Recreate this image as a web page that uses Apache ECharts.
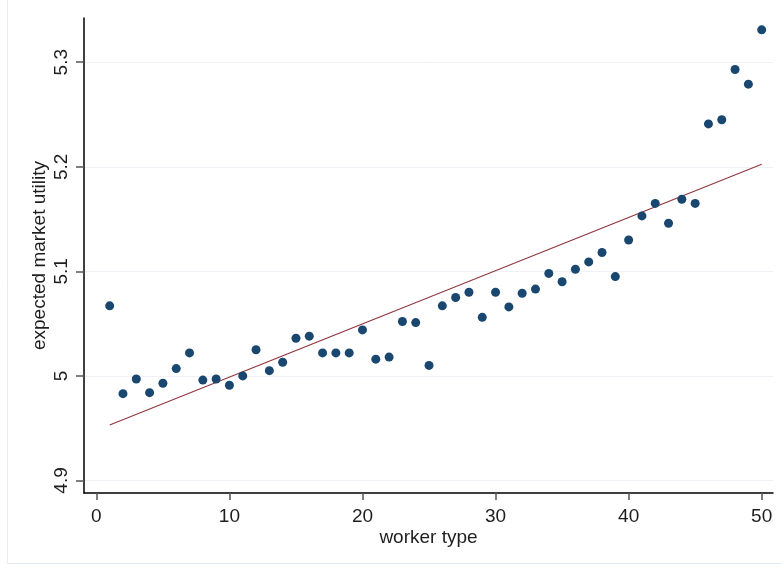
<!DOCTYPE html>
<html>
<head>
<meta charset="utf-8">
<script src="https://cdn.jsdelivr.net/npm/echarts@6/dist/echarts.min.js"></script>
<style>
  html, body { margin: 0; padding: 0; background: #fff; }
  #chart { width: 782px; height: 569px; }
</style>
</head>
<body>
<div id="chart"></div>
<script>
// Worker types 1..50 and their expected market utility
const workerType = [
  1, 2, 3, 4, 5, 6, 7, 8, 9, 10,
  11, 12, 13, 14, 15, 16, 17, 18, 19, 20,
  21, 22, 23, 24, 25, 26, 27, 28, 29, 30,
  31, 32, 33, 34, 35, 36, 37, 38, 39, 40,
  41, 42, 43, 44, 45, 46, 47, 48, 49, 50
];
const utility = [
  5.067, 4.983, 4.997, 4.984, 4.993, 5.007, 5.022, 4.996, 4.997, 4.991,
  5.000, 5.025, 5.005, 5.013, 5.036, 5.038, 5.022, 5.022, 5.022, 5.044,
  5.016, 5.018, 5.052, 5.051, 5.010, 5.067, 5.075, 5.080, 5.056, 5.080,
  5.066, 5.079, 5.083, 5.098, 5.090, 5.102, 5.109, 5.118, 5.095, 5.130,
  5.153, 5.165, 5.146, 5.169, 5.165, 5.241, 5.245, 5.293, 5.279, 5.331
];
// Linear fit endpoints
const fitX = [1, 50];
const fitY = [4.953, 5.2025];

// Tick values
const xTicks = [0, 10, 20, 30, 40, 50];
const yTicks = [4.9, 5, 5.1, 5.2, 5.3];

const points = workerType.map((x, i) => [x, utility[i]]);
const fitLine = fitX.map((x, i) => [x, fitY[i]]);

const textColor = '#1e1e1e';
const font = 'Liberation Sans, Arial, sans-serif';

const chart = echarts.init(document.getElementById('chart'), null, { renderer: 'canvas' });
chart.setOption({
  backgroundColor: '#ffffff',
  animation: false,
  graphic: [{
    type: 'rect',
    silent: true,
    shape: { x: 7.5, y: -2, width: 780, height: 565.5 },
    style: { fill: 'none', stroke: '#e6ecf4', lineWidth: 1 }
  }],
  grid: { left: 84, top: 18, right: 9, bottom: 76, containLabel: false },
  xAxis: {
    type: 'value',
    min: -0.93,
    max: 50.85,
    name: 'worker type',
    nameLocation: 'middle',
    nameGap: 35,
    nameMoveOverlap: false,
    nameTextStyle: { color: textColor, fontSize: 19, fontFamily: font },
    axisLine: { show: true, onZero: false, lineStyle: { color: '#000', width: 1.5 } },
    axisTick: { show: true, length: 7, customValues: xTicks, lineStyle: { color: '#555', width: 1.5 } },
    axisLabel: {
      customValues: xTicks,
      margin: 14,
      color: textColor,
      fontSize: 19,
      fontFamily: font,
      formatter: v => String(v)
    },
    splitLine: { show: false }
  },
  yAxis: {
    type: 'value',
    min: 4.888,
    max: 5.3423,
    name: 'expected market utility',
    nameLocation: 'middle',
    nameGap: 35,
    nameMoveOverlap: false,
    nameTextStyle: { color: textColor, fontSize: 19, fontFamily: font },
    axisLine: { show: true, onZero: false, lineStyle: { color: '#000', width: 1.5 } },
    axisTick: { show: true, length: 8, customValues: yTicks, lineStyle: { color: '#555', width: 1.5 } },
    axisLabel: {
      customValues: yTicks,
      rotate: 90,
      margin: 13,
      color: textColor,
      fontSize: 19,
      fontFamily: font,
      formatter: v => String(Math.round(v * 10) / 10)
    },
    splitLine: { show: true, lineStyle: { color: '#eef1f6', width: 1 } }
  },
  series: [
    {
      type: 'scatter',
      data: points,
      symbol: 'circle',
      symbolSize: 9,
      itemStyle: { color: '#1a476f', opacity: 1 },
      z: 3
    },
    {
      type: 'line',
      data: fitLine,
      symbol: 'none',
      lineStyle: { color: '#90353b', width: 1.1 },
      z: 2
    }
  ]
});
</script>
</body>
</html>
